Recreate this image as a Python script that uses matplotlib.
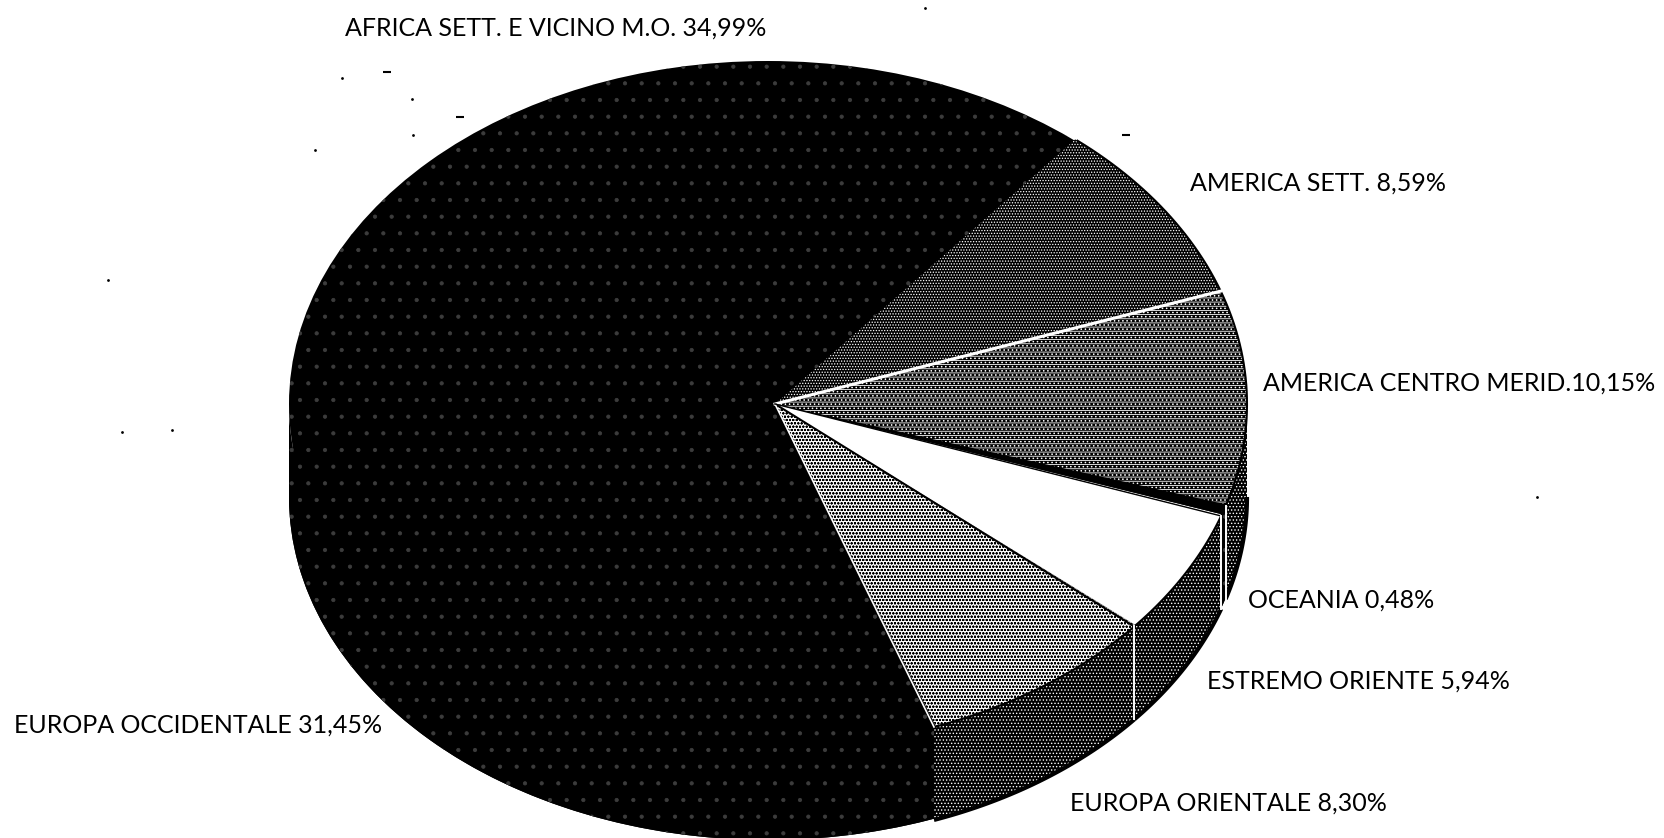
# torta 3D scansionata: distribuzione per area geografica
import numpy as np
import matplotlib
matplotlib.use("Agg")
import matplotlib.pyplot as plt
from matplotlib.patches import Ellipse

NAMES = ["AFRICA SETT. E VICINO M.O. ", "EUROPA OCCIDENTALE ", "EUROPA ORIENTALE ",
         "ESTREMO ORIENTE ", "OCEANIA ", "AMERICA CENTRO MERID.", "AMERICA SETT. "]
VALUES = [34.99, 31.45, 8.30, 5.94, 0.48, 10.15, 8.59]

# pixel della figura: centro spicchi, semiassi, spessore
CX, CY, RX, RY, DEPTH = 775, 404, 472, 343, 93
BODY_SHIFT, BODY_RX = -7, 479
START = 50.5

FACE = ["black", "black", "white", "white", "black", "black", "black"]
HATCH_COL = ["white", "white", "black", "white", "black", "white", "white"]
HATCH = ["sp", "sp", "ooooo", None, None, "----....", "......"]
SIDE_HATCH = [None, None, ".....", ".....", None, ".....", None]
LABEL_XY = [(345, 28), (14, 725), (1070, 803), (1207, 681), (1248, 600), (1263, 383), (1190, 183)]
DOTS = [(342, 78), (412, 99), (413, 135), (315, 150), (925, 8), (1537, 497),
        (108, 280), (172, 430), (122, 432)]
DASHES = [(387, 72), (460, 117), (1126, 135)]

plt.rcParams["font.family"] = ["Lato", "DejaVu Sans"]
plt.rcParams["hatch.linewidth"] = 0.6

fig = plt.figure(figsize=(16.64, 8.38), dpi=100)
ax = fig.add_axes([0, 0, 1, 1])

edges = START + np.concatenate([[0], np.cumsum(VALUES)]) * 3.6


def arc(a0, a1, n=60):
    t = np.radians(np.linspace(a0, a1, n))
    return np.cos(t), np.sin(t)


# corpo nero: fianco e faccia con puntini radi
dy = DEPTH / RY
sx = BODY_SHIFT / RX
sw = 2 * BODY_RX / RX
ax.add_patch(Ellipse((sx, -dy), sw, 2, fc="black", ec="#3c3c3c", hatch=".", lw=0, zorder=1))
x0, y0 = arc(180, 360, 200)
ax.fill_between(sx + x0 * sw / 2, y0, y0 - dy, facecolor="black", edgecolor="#3c3c3c",
                hatch=".", lw=0, zorder=1)
ax.add_patch(Ellipse((sx, 0), sw, 2, fc="black", ec="#3c3c3c", hatch=".", lw=0, zorder=2))

# fianchi degli spicchi davanti
for i in range(len(VALUES)):
    a0, a1 = edges[i], edges[i + 1]
    if a1 > 360:
        a1 = 360
    a0 = max(a0, 180)
    if SIDE_HATCH[i] is None or a1 <= a0:
        continue
    x, y = arc(a0, a1)
    ax.fill(np.r_[x, x[::-1]], np.r_[y, y[::-1] - dy], fc="black", ec="white",
            hatch=SIDE_HATCH[i], lw=0, zorder=3)
    ax.plot(x, y - dy, color="black", lw=3, zorder=5, solid_capstyle="butt")

# faccia superiore
wedges, _ = ax.pie(VALUES, startangle=START, radius=1, counterclock=True)
for w, fc, hc, h in zip(wedges, FACE, HATCH_COL, HATCH):
    if h == "sp":
        w.set_visible(False)
        continue
    w.set(facecolor=fc, edgecolor=hc, hatch=h, linewidth=0, zorder=4)

# bordo arco destro e separazioni
ax.plot(*arc(edges[2], edges[5]), color="black", lw=1.5, zorder=6)
ax.plot(*arc(edges[5], edges[7]), color="black", lw=1.5, zorder=6)
for i, col, lw in [(6, "white", 2.2), (3, "black", 1.5), (2, "white", 1.2), (4, "black", 1)]:
    xe, ye = np.cos(np.radians(edges[i])), np.sin(np.radians(edges[i]))
    ax.plot([0, xe], [0, ye], color=col, lw=lw, zorder=6)
for i in [3, 4, 5]:
    xe, ye = np.cos(np.radians(edges[i])), np.sin(np.radians(edges[i]))
    ax.plot([xe, xe], [ye, ye - dy], color="white", lw=1.4, zorder=6)

ax.set_aspect("auto")
ax.set_xlim(-CX / RX, (1664 - CX) / RX)
ax.set_ylim((CY - 838) / RY, CY / RY)
ax.set_axis_off()

# etichette e macchie di scansione in pixel
for name, v, (lx, ly) in zip(NAMES, VALUES, LABEL_XY):
    ax.text(lx / 1664, 1 - ly / 838, name + f"{v:.2f}%".replace(".", ","),
            transform=ax.transAxes, fontsize=18, ha="left", va="center",
            color="black", zorder=8)
for dx_, dy_ in DOTS:
    ax.plot(dx_ / 1664, 1 - dy_ / 838, "o", ms=2, mew=0, color="black", transform=ax.transAxes)
for dx_, dy_ in DASHES:
    ax.plot(dx_ / 1664, 1 - dy_ / 838, "_", ms=6, mew=1.5, color="black", transform=ax.transAxes)

fig.savefig("out.png", dpi=100)
